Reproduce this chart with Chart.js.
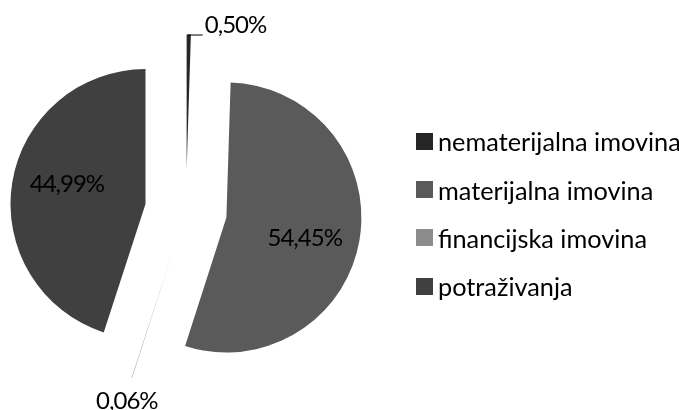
<!DOCTYPE html>
<html>
<head>
<meta charset="utf-8">
<script src="https://cdn.jsdelivr.net/npm/chart.js@4"></script>
<style>
    html, body { margin: 0; padding: 0; background: #fff; }
    #wrap { position: relative; width: 679px; height: 410px; overflow: hidden; font-family: Lato, 'Open Sans', sans-serif; }
    #grafikon { position: absolute; left: 0; top: 0; }
    #legenda { position: absolute; left: 416px; top: 117px; margin: 0; padding: 0; list-style: none; white-space: nowrap; }
    #legenda li { height: 48.4px; display: flex; align-items: center; font-size: 25.3px; color: #000; }
    #legenda .kocka { display: inline-block; width: 17px; height: 17px; margin-right: 5px; }
</style>
</head>
<body>
<div id="wrap">
    <canvas id="grafikon" width="679" height="410"></canvas>
    <ul id="legenda"></ul>
</div>
<script>
const kategorije = ['nematerijalna imovina', 'materijalna imovina', 'financijska imovina', 'potraživanja'];
const udjeli = [0.50, 54.45, 0.06, 44.99];
const boje = ['#262626', '#5a5a5a', '#8c8c8c', '#404040'];

const RAZMAK = 41;      // koliko su kriske izvučene iz središta
const FONT = '24px Lato, "Open Sans", sans-serif';

function postotak(v) {
    return v.toFixed(2).replace('.', ',') + '%';
}

// crta kriske pomaknute duž simetrale (chartov offset mijenja i radijus)
const izvuceno = {
    id: 'izvuceno',
    beforeDatasetDraw(chart, args) {
        const ctx = chart.ctx;
        args.meta.data.forEach(arc => {
            const mid = (arc.startAngle + arc.endAngle) / 2;
            ctx.save();
            ctx.translate(Math.cos(mid) * RAZMAK, Math.sin(mid) * RAZMAK);
            arc.draw(ctx);
            ctx.restore();
        });
        return false;
    },
    afterDatasetsDraw(chart) {
        const ctx = chart.ctx;
        const meta = chart.getDatasetMeta(0);
        ctx.save();
        ctx.font = FONT;
        ctx.letterSpacing = '-1px';
        ctx.fillStyle = '#000';
        meta.data.forEach((arc, i) => {
            const mid = (arc.startAngle + arc.endAngle) / 2;
            const cx = arc.x + Math.cos(mid) * RAZMAK;
            const cy = arc.y + Math.sin(mid) * RAZMAK;
            const r = arc.outerRadius;
            const tekst = postotak(udjeli[i]);
            if (udjeli[i] >= 5) {
                // oznaka malo zakrenuta od simetrale, kao u Excelu
                const a = mid + 5 * Math.PI / 180;
                ctx.textAlign = 'center';
                ctx.textBaseline = 'middle';
                ctx.fillText(tekst, cx + Math.cos(a) * r * 0.6, cy + Math.sin(a) * r * 0.6);
                return;
            }
            const tx = cx + Math.cos(mid) * r;
            const ty = cy + Math.sin(mid) * r;
            if (Math.sin(mid) < 0) {
                ctx.strokeStyle = '#000';
                ctx.lineWidth = 1;
                ctx.beginPath();
                ctx.moveTo(tx - 1, ty + 0.5);
                ctx.lineTo(tx + 14, ty + 0.5);
                ctx.stroke();
                ctx.textAlign = 'left';
                ctx.textBaseline = 'middle';
                ctx.fillText(tekst, tx + 16, ty - 9);
            } else {
                ctx.textAlign = 'center';
                ctx.textBaseline = 'middle';
                ctx.fillText(tekst, tx - 5, ty + 23);
            }
        });
        ctx.restore();
    }
};

const chart = new Chart(document.getElementById('grafikon'), {
    type: 'pie',
    data: {
        labels: kategorije,
        datasets: [{
            data: udjeli,
            backgroundColor: boje,
            borderWidth: 0
        }]
    },
    options: {
        responsive: false,
        animation: false,
        radius: 135,
        layout: { padding: { left: 0, top: 11, right: 307, bottom: 0 } },
        plugins: {
            legend: { display: false },
            tooltip: { enabled: false }
        }
    },
    plugins: [izvuceno]
});

const stavke = chart.options.plugins.legend.labels.generateLabels(chart);
const ul = document.getElementById('legenda');
stavke.forEach(s => {
    const li = document.createElement('li');
    li.innerHTML = `<span class="kocka" style="background:${s.fillStyle}"></span>${s.text}`;
    ul.appendChild(li);
});
</script>
</body>
</html>
